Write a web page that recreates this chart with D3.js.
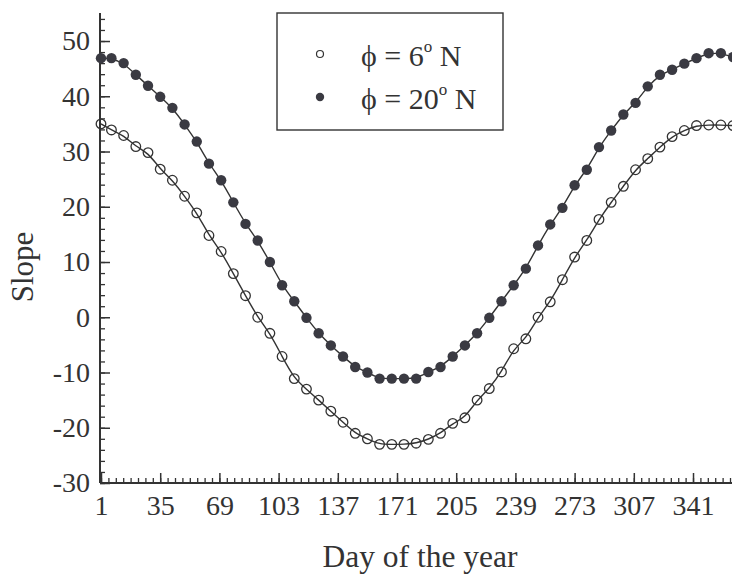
<!DOCTYPE html>
<html lang="en">
<head>
<meta charset="utf-8">
<title>Slope vs day of the year</title>
<script src="https://d3js.org/d3.v7.min.js"></script>
<style>
	body { margin: 0; background: #fff; }
	text { font-family: 'Liberation Serif', 'Times New Roman', serif; fill: #333; }
	.axis path, .axis line { stroke: #333; }
</style>
</head>
<body>
<div id="chart"></div>
<script>

// day of the year for every marker
var days = [1, 7, 14, 21, 28, 35, 42, 49, 56, 63, 70, 77, 84, 91, 98, 105, 112, 119, 126, 133,
	140, 147, 154, 161, 168, 175, 182, 189, 196, 203, 210, 217, 224, 231, 238, 245, 252, 259,
	266, 273, 280, 287, 294, 301, 308, 315, 322, 329, 336, 343, 350, 357, 364];

// phi = 6 N (open circles)
var slope6 = [35.0, 33.9, 32.9, 30.9, 29.8, 26.8, 24.8, 21.9, 18.9, 14.8, 11.9, 7.9, 3.9, 0.0,
	-2.9, -7.1, -11.1, -13.0, -15.0, -17.0, -19.0, -21.0, -22.0, -23.0, -23.0, -23.0, -22.8,
	-22.1, -21.0, -19.2, -18.2, -15.0, -12.9, -9.9, -5.7, -3.9, 0.0, 2.8, 6.8, 10.9, 13.9, 17.7,
	20.8, 23.7, 26.7, 28.7, 30.8, 32.7, 33.8, 34.7, 34.8, 34.8, 34.7];

// phi = 20 N (filled circles)
var slope20 = [46.9, 46.9, 46.0, 43.9, 41.9, 39.9, 37.9, 34.9, 31.8, 27.8, 24.8, 20.8, 16.9, 13.9,
	10.0, 5.8, 2.9, -0.1, -2.9, -5.1, -7.1, -9.0, -10.0, -11.1, -11.1, -11.1, -11.1, -9.9, -9.0,
	-7.1, -5.1, -2.9, -0.1, 2.9, 5.8, 8.8, 13.0, 16.8, 19.8, 23.9, 26.7, 30.8, 33.8, 36.7, 38.8,
	41.8, 43.9, 44.8, 45.9, 46.9, 47.8, 47.8, 47.1];

var xTicks = [1, 35, 69, 103, 137, 171, 205, 239, 273, 307, 341];
var yTicks = [-30, -20, -10, 0, 10, 20, 30, 40, 50];

var w = 732, h = 575;
var ink = "#333";

var svg = d3.select("#chart")
	.append("svg")
	.attr("width", w)
	.attr("height", h);

var x = d3.scaleLinear().domain([1, 365]).range([101, 734.8]);
var y = d3.scaleLinear().domain([-30, 55]).range([483, 13.4]);

// minor ticks
var xMinor = d3.range(0, 87).map(function(i) { return 1 + i * 4.25; });
var yMinor = d3.range(-30, 55, 2);

svg.append("g")
	.attr("class", "axis")
	.attr("transform", "translate(0,483)")
	.call(d3.axisBottom(x).tickValues(xMinor).tickFormat("").tickSizeInner(-5).tickSizeOuter(0))
	.call(function(g) { g.select(".domain").remove(); })
	.selectAll("line").attr("stroke-width", 1.3);

svg.append("g")
	.attr("class", "axis")
	.attr("transform", "translate(100,0)")
	.call(d3.axisLeft(y).tickValues(yMinor).tickFormat("").tickSizeInner(-5).tickSizeOuter(0))
	.call(function(g) { g.select(".domain").remove(); })
	.selectAll("line").attr("stroke-width", 1.3);

// major ticks + labels (plain hyphen for negatives)
var xAxis = svg.append("g")
	.attr("class", "axis")
	.attr("transform", "translate(0,483)")
	.call(d3.axisBottom(x).tickValues(xTicks).tickFormat(String)
		.tickSizeInner(-10).tickSizeOuter(0).tickPadding(12));
xAxis.select(".domain").attr("stroke-width", 2).attr("d", "M100,0H735");
xAxis.selectAll("line").attr("stroke-width", 1.5);
xAxis.selectAll("text").attr("font-size", 28).attr("fill", ink);

var yAxis = svg.append("g")
	.attr("class", "axis")
	.attr("transform", "translate(100,0)")
	.call(d3.axisLeft(y).tickValues(yTicks).tickFormat(String)
		.tickSizeInner(-10).tickSizeOuter(0).tickPadding(10));
yAxis.select(".domain").attr("stroke-width", 2).attr("d", "M0,483V13");
yAxis.selectAll("line").attr("stroke-width", 1.5);
yAxis.selectAll("text").attr("font-size", 28).attr("fill", ink);

// axis titles
svg.append("text")
	.attr("x", 420)
	.attr("y", 567)
	.attr("text-anchor", "middle")
	.attr("font-size", 31.5)
	.text("Day of the year");

svg.append("text")
	.attr("transform", "translate(33,267) rotate(-90)")
	.attr("text-anchor", "middle")
	.attr("font-size", 31)
	.text("Slope");

// curves
var line = d3.line()
	.x(function(d) { return x(d[0]); })
	.y(function(d) { return y(d[1]); })
	.curve(d3.curveBasis);

var pts6 = days.map(function(d, i) { return [d, slope6[i]]; });
var pts20 = days.map(function(d, i) { return [d, slope20[i]]; });

svg.append("path")
	.attr("d", line(pts6))
	.attr("fill", "none")
	.attr("stroke", ink)
	.attr("stroke-width", 1.4);

svg.append("path")
	.attr("d", line(pts20))
	.attr("fill", "none")
	.attr("stroke", ink)
	.attr("stroke-width", 1.4);

svg.selectAll("circle.open")
	.data(pts6)
	.enter()
	.append("circle")
	.attr("class", "open")
	.attr("cx", function(d) { return x(d[0]); })
	.attr("cy", function(d) { return y(d[1]); })
	.attr("r", 4.8)
	.attr("fill", "none")
	.attr("stroke", ink)
	.attr("stroke-width", 1.3);

svg.selectAll("circle.filled")
	.data(pts20)
	.enter()
	.append("circle")
	.attr("class", "filled")
	.attr("cx", function(d) { return x(d[0]); })
	.attr("cy", function(d) { return y(d[1]); })
	.attr("r", 5.2)
	.attr("fill", "#3a3a42");

// legend
var legend = svg.append("g");

legend.append("rect")
	.attr("x", 277)
	.attr("y", 13)
	.attr("width", 226)
	.attr("height", 117)
	.attr("fill", "#fff")
	.attr("stroke", ink)
	.attr("stroke-width", 1.4);

legend.append("circle")
	.attr("cx", 320).attr("cy", 54).attr("r", 3.5)
	.attr("fill", "none").attr("stroke", ink).attr("stroke-width", 1.2);

legend.append("circle")
	.attr("cx", 320).attr("cy", 97).attr("r", 4.2)
	.attr("fill", "#3a3a42");

var labels = [["6", 66], ["20", 109]];
labels.forEach(function(l) {
	var t = legend.append("text")
		.attr("x", 361)
		.attr("y", l[1])
		.attr("font-size", 30);
	t.append("tspan").text("\u03D5 = " + l[0]);
	t.append("tspan").attr("dy", -14).attr("font-size", 17).text("o");
	t.append("tspan").attr("dy", 14).text(" N");
});

</script>
</body>
</html>
